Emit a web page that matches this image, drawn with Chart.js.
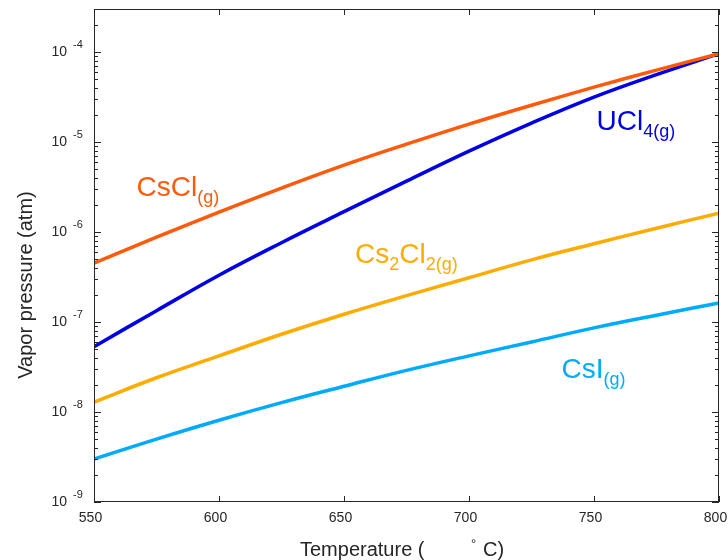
<!DOCTYPE html>
<html>
<head>
<meta charset="utf-8">
<script src="https://cdn.jsdelivr.net/npm/chart.js@4"></script>
<style>
  html, body { margin: 0; padding: 0; background: #fff; }
  #wrap { width: 728px; height: 560px; }
</style>
</head>
<body>
<div id="wrap"><canvas id="vapor" width="728" height="560"></canvas></div>
<script>
// temperatures (deg C) and vapour pressures (atm)
const temps = [550, 575, 600, 625, 650, 675, 700, 725, 750, 775, 800];
const cscl = [4.5e-7, 8.76e-7, 1.66e-6, 3.07e-6, 5.52e-6, 9.45e-6, 1.58e-5, 2.56e-5, 4.06e-5, 6.28e-5, 9.57e-5];
const ucl4 = [5.32e-8, 1.335e-7, 3.31e-7, 7.6e-7, 1.68e-6, 3.67e-6, 7.9e-6, 1.62e-5, 3.15e-5, 5.6e-5, 9.57e-5];
const cs2cl2 = [1.29e-8, 2.4e-8, 4.2e-8, 7.3e-8, 1.22e-7, 1.96e-7, 3.1e-7, 4.9e-7, 7.4e-7, 1.1e-6, 1.62e-6];
const csi = [3.0e-9, 5.0e-9, 8.1e-9, 1.27e-8, 1.93e-8, 2.9e-8, 4.2e-8, 6.0e-8, 8.6e-8, 1.19e-7, 1.63e-7];

const xTicks = [550, 600, 650, 700, 750, 800];
const yDecades = [-9, -8, -7, -6, -5, -4];

const FONT = "'Liberation Sans', Arial, Helvetica, sans-serif";
const AXIS = '#262626';

function toPoints(values) {
    return temps.map((t, i) => ({ x: t, y: values[i] }));
}

// series labels, placed in data coordinates (left end of text baseline)
const seriesLabels = [
    { x: 567, y: 2.5e-6, color: '#ff5a0a', parts: [['CsCl', false], ['(g)', true]] },
    { x: 751, y: 1.37e-5, color: '#0000e6', parts: [['UCl', false], ['4(g)', true]] },
    { x: 654.4, y: 4.56e-7, color: '#ffab00', parts: [['Cs', false], ['2', true], ['Cl', false], ['2(g)', true]] },
    { x: 737, y: 2.4e-8, color: '#00aaff', parts: [['CsI', false], ['(g)', true]] }
];

const matlabAxes = {
    id: 'matlabAxes',
    afterDraw(chart) {
        const ctx = chart.ctx;
        const { left, right, top, bottom } = chart.chartArea;
        const xs = chart.scales.x;
        const ys = chart.scales.y;
        ctx.save();

        // box
        ctx.strokeStyle = AXIS;
        ctx.lineWidth = 1;
        ctx.strokeRect(left + 0.5, top + 0.5, right - left - 1, bottom - top - 1);

        // x ticks + labels
        ctx.fillStyle = AXIS;
        ctx.font = '14px ' + FONT;
        ctx.textAlign = 'center';
        ctx.textBaseline = 'middle';
        xTicks.forEach(v => {
            const px = Math.round(xs.getPixelForValue(v)) + 0.5;
            ctx.beginPath();
            ctx.moveTo(px, bottom); ctx.lineTo(px, bottom - 6);
            ctx.moveTo(px, top); ctx.lineTo(px, top + 6);
            ctx.stroke();
            ctx.fillText(String(v), px - 4, bottom + 16);
        });

        // y ticks (decades + minors) + labels
        yDecades.forEach(k => {
            for (let m = 1; m <= 9; m++) {
                const v = m * Math.pow(10, k);
                if (v < ys.min * 0.999 || v > ys.max * 1.001) continue;
                const py = Math.round(ys.getPixelForValue(v)) + 0.5;
                const len = m === 1 ? 7 : 4;
                ctx.beginPath();
                ctx.moveTo(left, py); ctx.lineTo(left + len, py);
                ctx.moveTo(right, py); ctx.lineTo(right - len, py);
                ctx.stroke();
            }
            const py = ys.getPixelForValue(Math.pow(10, k));
            ctx.textAlign = 'right';
            ctx.font = '14px ' + FONT;
            ctx.fillText('10', 67, py);
            ctx.textAlign = 'left';
            ctx.font = '11px ' + FONT;
            ctx.fillText(String(k), 73, py - 7);
        });

        // axis titles
        ctx.textAlign = 'left';
        ctx.textBaseline = 'alphabetic';
        ctx.font = '20px ' + FONT;
        ctx.fillText('Temperature (', 300, 556);
        ctx.font = '13px ' + FONT;
        ctx.fillText('\u00b0', 471, 548);
        ctx.font = '20px ' + FONT;
        ctx.fillText('C)', 483, 556);

        ctx.save();
        ctx.translate(32, 285);
        ctx.rotate(-Math.PI / 2);
        ctx.textAlign = 'center';
        ctx.fillText('Vapor pressure (atm)', 0, 0);
        ctx.restore();

        // series labels
        seriesLabels.forEach(lab => {
            let px = xs.getPixelForValue(lab.x);
            const py = ys.getPixelForValue(lab.y);
            ctx.fillStyle = lab.color;
            lab.parts.forEach(([txt, sub]) => {
                ctx.font = (sub ? '18px ' : '28px ') + FONT;
                ctx.fillText(txt, px, sub ? py + 7 : py);
                px += ctx.measureText(txt).width;
            });
        });

        ctx.restore();
    }
};

function makeDataset(label, values, color) {
    return {
        label: label,
        data: toPoints(values),
        borderColor: color,
        backgroundColor: color,
        borderWidth: 3.5,
        pointRadius: 0,
        tension: 0.4,
        fill: false
    };
}

new Chart(document.getElementById('vapor').getContext('2d'), {
    type: 'line',
    data: {
        datasets: [
            makeDataset('CsCl(g)', cscl, '#ff5a0a'),
            makeDataset('UCl4(g)', ucl4, '#0000e6'),
            makeDataset('Cs2Cl2(g)', cs2cl2, '#ffab00'),
            makeDataset('CsI(g)', csi, '#00aaff')
        ]
    },
    options: {
        responsive: false,
        animation: false,
        layout: { padding: { top: 9, right: 9, left: 0, bottom: 0 } },
        plugins: {
            legend: { display: false },
            tooltip: { enabled: false }
        },
        scales: {
            x: {
                type: 'linear',
                min: 550,
                max: 800,
                grid: { display: false },
                border: { display: false },
                ticks: { display: false },
                afterFit: scale => { scale.height = 58; }
            },
            y: {
                type: 'logarithmic',
                min: 1e-9,
                max: 3e-4,
                grid: { display: false },
                border: { display: false },
                ticks: { display: false },
                afterFit: scale => { scale.width = 94; }
            }
        }
    },
    plugins: [matlabAxes]
});
</script>
</body>
</html>
